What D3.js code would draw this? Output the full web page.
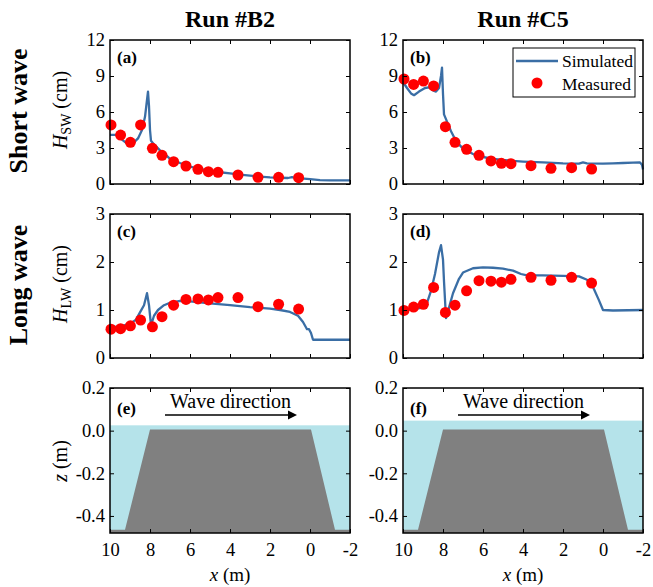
<!DOCTYPE html>
<html>
<head>
<meta charset="utf-8">
<script src="https://cdn.jsdelivr.net/npm/d3@7"></script>
<style>
  body { margin: 0; background: #fff; }
  svg text { font-family: "Liberation Serif", Tinos, "Times New Roman", Times, "DejaVu Serif", serif; fill: #000; }
</style>
</head>
<body>
<svg id="chart" width="653" height="587"></svg>
<script>
// gauge positions (m) and measured wave heights (cm)
const gaugeX = [9.95, 9.47, 8.98, 8.47, 7.88, 7.4, 6.82, 6.2, 5.6, 5.08, 4.6, 3.6, 2.6, 1.57, 0.57];
const measB2Sw = [4.92, 4.08, 3.47, 4.92, 2.97, 2.39, 1.86, 1.5, 1.22, 1.03, 0.97, 0.75, 0.56, 0.56, 0.53];
const measC5Sw = [8.75, 8.3, 8.58, 8.17, 4.78, 3.47, 2.89, 2.39, 1.92, 1.72, 1.69, 1.53, 1.31, 1.36, 1.25];
const measB2Lw = [0.6, 0.61, 0.67, 0.79, 0.65, 0.86, 1.1, 1.22, 1.23, 1.21, 1.26, 1.26, 1.07, 1.12, 1.02];
const measC5Lw = [0.99, 1.06, 1.12, 1.47, 0.95, 1.1, 1.4, 1.61, 1.6, 1.58, 1.64, 1.68, 1.62, 1.68, 1.56];

// simulated [x, H]
const simB2Sw = [[10,4.1],[9.7,4.1],[9.4,3.7],[9.1,3.3],[8.9,3.3],[8.6,3.8],[8.4,4.5],[8.25,5.6],[8.15,7.0],[8.1,7.7],[8.05,6.5],[8.0,4.5],[7.95,3.6],[7.8,3.3],[7.5,2.8],[7.2,2.4],[7,2.1],[6.5,1.75],[6,1.45],[5.5,1.25],[5,1.1],[4.5,0.98],[4,0.88],[3.5,0.78],[3,0.7],[2.5,0.62],[2,0.56],[1.5,0.52],[1.1,0.5],[0.9,0.58],[0.7,0.5],[0.3,0.45],[0,0.4],[-0.5,0.33],[-1,0.3],[-2,0.3]];
const simC5Sw = [[10,8.5],[9.8,8.0],[9.6,7.55],[9.45,7.4],[9.2,7.7],[8.9,8.0],[8.7,8.05],[8.5,7.8],[8.35,7.7],[8.2,8.0],[8.1,9.0],[8.05,9.7],[8.0,7.5],[7.95,5.8],[7.8,5.2],[7.6,4.4],[7.4,3.75],[7.2,3.3],[7,2.95],[6.5,2.5],[6,2.25],[5.5,2.1],[5,2.0],[4.5,1.92],[4,1.87],[3,1.8],[2,1.72],[1.2,1.7],[1.0,1.8],[0.8,1.72],[0,1.7],[-0.5,1.72],[-1,1.75],[-1.5,1.78],[-1.85,1.8],[-1.95,1.6],[-2,1.2]];
const simB2Lw = [[10,0.64],[9.5,0.66],[9,0.71],[8.7,0.8],[8.5,0.95],[8.3,1.1],[8.15,1.35],[8.05,1.1],[7.95,0.68],[7.8,0.88],[7.6,1.0],[7.3,1.1],[7,1.15],[6.5,1.19],[6,1.18],[5,1.14],[4,1.1],[3,1.06],[2,1.03],[1.5,1.0],[1,0.96],[0.6,0.88],[0.35,0.75],[0.15,0.6],[0.05,0.6],[-0.05,0.52],[-0.15,0.38],[-0.5,0.38],[-2,0.38]];
const simC5Lw = [[10,1.0],[9.5,1.02],[9,1.05],[8.8,1.15],[8.6,1.4],[8.4,1.75],[8.2,2.2],[8.1,2.35],[8.0,2.05],[7.95,1.6],[7.85,0.83],[7.7,1.05],[7.5,1.35],[7.2,1.65],[7,1.78],[6.5,1.87],[6,1.89],[5.5,1.88],[5,1.86],[4.5,1.82],[4.1,1.75],[3.8,1.72],[3,1.72],[2,1.71],[1.2,1.7],[0.8,1.63],[0.5,1.48],[0.2,1.2],[0,1.0],[-0.5,0.99],[-2,1.0]];

// bathymetry and still water levels (m)
const bedX = [10, 9.25, 8.0, -0.05, -1.25, -2];
const bedZ = [-0.465, -0.465, 0.005, 0.005, -0.465, -0.465];
const waterB2 = 0.025;
const waterC5 = 0.047;

const xTicks = [10, 8, 6, 4, 2, 0, -2];
const swTicks = [0, 3, 6, 9, 12];
const lwTicks = [0, 1, 2, 3];
const zTicks = [-0.4, -0.2, 0, 0.2];

const blue = "#3a6ea5";
const red = "#ff0000";
const serif = '"Liberation Serif", Tinos, "Times New Roman", Times, "DejaVu Serif", serif';

const svg = d3.select("#chart");
const pw = 240;
const cols = [
  { left: 110, run: "Run #B2", sw: simB2Sw, lw: simB2Lw, msw: measB2Sw, mlw: measB2Lw, water: waterB2, tags: ["(a)", "(c)", "(e)"] },
  { left: 403, run: "Run #C5", sw: simC5Sw, lw: simC5Lw, msw: measC5Sw, mlw: measC5Lw, water: waterC5, tags: ["(b)", "(d)", "(f)"] }
];
const rows = [
  { top: 40, h: 144, domain: [0, 12], ticks: swTicks, fmt: d => d },
  { top: 214, h: 144, domain: [0, 3], ticks: lwTicks, fmt: d => d },
  { top: 388, h: 145, domain: [-0.48, 0.2], ticks: zTicks, fmt: d => d.toFixed(1) }
];

const x = d3.scaleLinear().domain([10, -2]).range([0, pw]);

function frame(g, y, row, bottomLabels) {
  g.append("g").attr("transform", `translate(0,${row.h})`)
    .call(d3.axisBottom(x).tickValues(xTicks).tickSize(-4).tickPadding(10)
      .tickFormat(bottomLabels ? d => d : ""));
  g.append("g")
    .call(d3.axisTop(x).tickValues(xTicks.slice(1, -1)).tickSize(-4).tickFormat(""));
  g.append("g")
    .call(d3.axisLeft(y).tickValues(row.ticks).tickSize(-4).tickPadding(5).tickFormat(row.fmt));
  g.append("g").attr("transform", `translate(${pw},0)`)
    .call(d3.axisRight(y).tickValues(row.ticks).tickSize(-4).tickFormat(""));
  g.selectAll(".domain").remove();
  g.selectAll("g").attr("font-family", serif);
  g.selectAll(".tick line").attr("stroke", "#000").attr("stroke-width", 1);
  g.selectAll(".tick text").attr("font-size", 18.5).attr("fill", "#000");
  g.append("rect").attr("width", pw).attr("height", row.h)
    .attr("fill", "none").attr("stroke", "#000").attr("stroke-width", 1.5);
}

cols.forEach((c, ci) => {
  svg.append("text").attr("x", c.left + pw / 2).attr("y", 27)
    .attr("text-anchor", "middle").attr("font-size", 24).attr("font-weight", "bold").text(c.run);

  // wave height panels
  [[c.sw, c.msw, rows[0]], [c.lw, c.mlw, rows[1]]].forEach(([sim, meas, row], ri) => {
    const g = svg.append("g").attr("transform", `translate(${c.left},${row.top})`);
    const y = d3.scaleLinear().domain(row.domain).range([row.h, 0]);
    const line = d3.line().x(d => x(d[0])).y(d => y(d[1]));
    g.append("path").datum(sim).attr("d", line)
      .attr("fill", "none").attr("stroke", blue).attr("stroke-width", 2.3).attr("stroke-linejoin", "round");
    g.selectAll("circle").data(meas).join("circle")
      .attr("cx", (d, i) => x(gaugeX[i])).attr("cy", d => y(d)).attr("r", 5.5).attr("fill", red);
    frame(g, y, row, false);
    g.append("text").attr("x", 7).attr("y", 23).attr("font-size", 17).attr("font-weight", "bold").text(c.tags[ri]);
  });

  // bathymetry panel
  const row = rows[2];
  const g = svg.append("g").attr("transform", `translate(${c.left},${row.top})`);
  const y = d3.scaleLinear().domain(row.domain).range([row.h, 0]);
  g.append("rect").attr("x", 0).attr("y", y(c.water)).attr("width", pw)
    .attr("height", row.h - y(c.water)).attr("fill", "#b5e3ea");
  const bed = bedX.map((v, i) => [v, bedZ[i]]);
  g.append("path").datum(bed)
    .attr("d", d3.area().x(d => x(d[0])).y0(y(-0.48)).y1(d => y(d[1])))
    .attr("fill", "#808080");
  frame(g, y, row, true);
  g.append("text").attr("x", 7).attr("y", 26).attr("font-size", 17).attr("font-weight", "bold").text(c.tags[2]);
  g.append("text").attr("x", x(7.0)).attr("y", 20).attr("font-size", 20).text("Wave direction");
  g.append("line").attr("x1", x(7.25)).attr("x2", x(0.95)).attr("y1", 27).attr("y2", 27)
    .attr("stroke", "#000").attr("stroke-width", 1.5);
  const ax = x(0.65);
  g.append("path").attr("d", `M${ax},27 L${ax - 9},22.5 L${ax - 9},31.5 Z`).attr("fill", "#000");

  svg.append("text").attr("x", c.left + pw / 2).attr("y", 581).attr("text-anchor", "middle").attr("font-size", 19)
    .call(t => { t.append("tspan").attr("font-style", "italic").text("x"); t.append("tspan").text(" (m)"); });
});

// legend in panel (b)
const lg = svg.append("g").attr("transform", "translate(513,48)");
lg.append("rect").attr("width", 122).attr("height", 49).attr("fill", "#fff").attr("stroke", "#000").attr("stroke-width", 1);
lg.append("line").attr("x1", 3).attr("x2", 45).attr("y1", 13).attr("y2", 13).attr("stroke", blue).attr("stroke-width", 2.5);
lg.append("text").attr("x", 49).attr("y", 19).attr("font-size", 17.5).text("Simulated");
lg.append("circle").attr("cx", 24).attr("cy", 35).attr("r", 5.5).attr("fill", red);
lg.append("text").attr("x", 49).attr("y", 42).attr("font-size", 17.5).text("Measured");

// row labels
[["Short wave", 111], ["Long wave", 285]].forEach(([t, cy]) => {
  svg.append("text").attr("transform", `translate(27,${cy}) rotate(-90)`)
    .attr("text-anchor", "middle").attr("font-size", 26).attr("font-weight", "bold").text(t);
});

// y-axis titles
function yTitle(cx, cy, sub, unit, italicMain) {
  const t = svg.append("text").attr("transform", `translate(${cx},${cy}) rotate(-90)`)
    .attr("text-anchor", "middle").attr("font-size", 20);
  t.append("tspan").attr("font-style", "italic").text(italicMain);
  if (sub) t.append("tspan").attr("font-size", 14).attr("dy", 4).text(sub);
  t.append("tspan").attr("dy", sub ? -4 : 0).text(unit);
}
yTitle(67, 110, "SW", " (cm)", "H");
yTitle(67, 284, "LW", " (cm)", "H");
yTitle(67, 461, null, " (m)", "z");
</script>
</body>
</html>
